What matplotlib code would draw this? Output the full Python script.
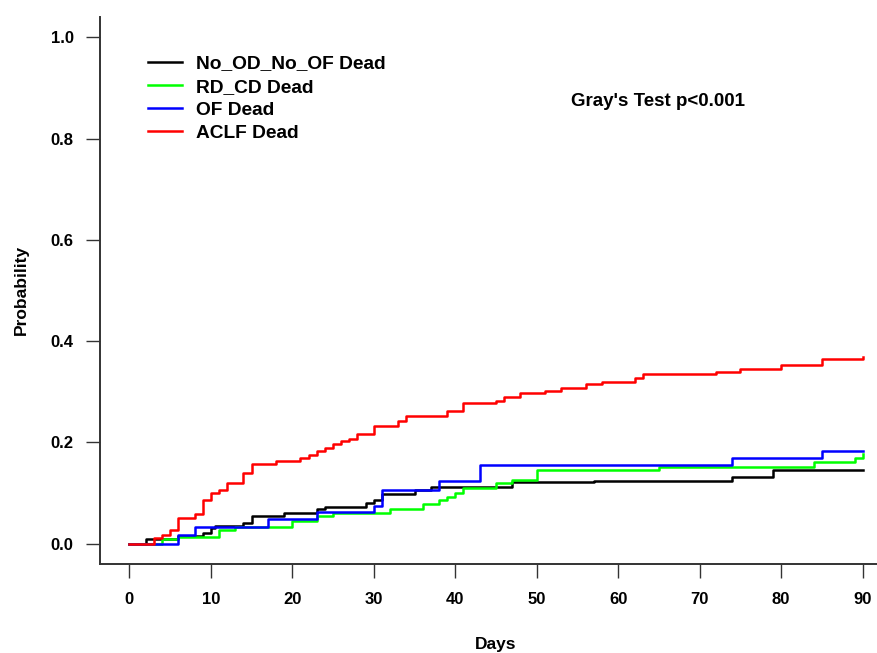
import matplotlib.pyplot as plt

plt.rcParams['font.family'] = ['Liberation Sans', 'DejaVu Sans']
plt.rcParams['font.weight'] = 'bold'

# cumulative incidence of death by group (days, probability)
days_none = [0, 2, 6, 9, 10, 10.5, 14, 15, 19, 23, 24, 29, 30, 31, 35, 37, 47, 57, 74, 79, 90]
prob_none = [0, 0.010, 0.016, 0.022, 0.031, 0.036, 0.041, 0.055, 0.061, 0.069, 0.073,
             0.081, 0.087, 0.099, 0.106, 0.112, 0.121, 0.124, 0.132, 0.146, 0.146]

days_rdcd = [0, 4, 6, 11, 13, 20, 23, 25, 32, 36, 38, 39, 40, 41, 45, 47, 50, 65, 84, 89, 90]
prob_rdcd = [0, 0.010, 0.014, 0.028, 0.034, 0.045, 0.054, 0.060, 0.069, 0.079, 0.087,
             0.093, 0.101, 0.110, 0.120, 0.126, 0.146, 0.152, 0.162, 0.170, 0.177]

days_of = [0, 6, 8, 17, 23, 30, 31, 38, 43, 74, 85, 90]
prob_of = [0, 0.018, 0.033, 0.049, 0.063, 0.075, 0.107, 0.124, 0.156, 0.170, 0.184, 0.184]

days_aclf = [0, 3, 4, 5, 6, 8, 9, 10, 11, 12, 14, 15, 18, 21, 22, 23, 24, 25, 26, 27, 28,
             30, 33, 34, 39, 41, 45, 46, 48, 51, 53, 56, 58, 62, 63, 72, 75, 80, 85, 90]
prob_aclf = [0, 0.012, 0.018, 0.028, 0.051, 0.059, 0.087, 0.100, 0.106, 0.120, 0.140,
             0.158, 0.164, 0.170, 0.176, 0.184, 0.189, 0.197, 0.203, 0.207, 0.217,
             0.233, 0.243, 0.252, 0.262, 0.278, 0.282, 0.290, 0.298, 0.302, 0.308,
             0.316, 0.320, 0.327, 0.335, 0.340, 0.345, 0.353, 0.365, 0.369]

x_ticks = [0, 10, 20, 30, 40, 50, 60, 70, 80, 90]
y_ticks = [0.0, 0.2, 0.4, 0.6, 0.8, 1.0]

W, H = 877, 653
fig = plt.figure(figsize=(W / 100, H / 100), dpi=100)
ax = fig.add_axes([100 / W, (H - 564) / H, 792 / W, 547 / H])

ax.step(days_none, prob_none, where='post', color='black', lw=1.8, label='No_OD_No_OF Dead')
ax.step(days_rdcd, prob_rdcd, where='post', color='#00ff00', lw=1.8, label='RD_CD Dead')
ax.step(days_of, prob_of, where='post', color='#0000ff', lw=1.8, label='OF Dead')
ax.step(days_aclf, prob_aclf, where='post', color='#ff0000', lw=1.8, label='ACLF Dead')

ax.set_xlim(-3.6, 93.6)
ax.set_ylim(-0.04, 1.04)
ax.set_xticks(x_ticks)
ax.set_yticks(y_ticks)
ax.set_yticklabels([f'{v:.1f}' for v in y_ticks])

for side in ['top', 'right']:
    ax.spines[side].set_visible(False)
for side in ['left', 'bottom']:
    ax.spines[side].set_color('#333333')
    ax.spines[side].set_linewidth(1.4)

ax.tick_params(axis='x', length=10, width=1, color='#333333', pad=10, labelsize=12)
ax.tick_params(axis='y', length=10, width=1, color='#333333', pad=9, labelsize=12)

# axis titles placed in figure pixels
ax.set_xlabel('Days', fontsize=12.5, fontweight='bold', va='center')
ax.xaxis.set_label_coords(496 / W, 1 - 645 / H, transform=fig.transFigure)
ax.set_ylabel('Probability', fontsize=12.5, fontweight='bold', va='center')
ax.yaxis.set_label_coords(21 / W, 1 - 290 / H, transform=fig.transFigure)

ax.legend(loc='upper left', bbox_to_anchor=(148 / W, 1 - 55 / H),
          bbox_transform=fig.transFigure, frameon=False, fontsize=13.8,
          handlelength=1.75, handletextpad=0.78, labelspacing=0.3,
          borderpad=0, borderaxespad=0)

fig.text(658 / W, 1 - 101 / H, "Gray's Test p<0.001", fontsize=13.5, fontweight='bold',
         ha='center', va='center')

plt.savefig('out.png', dpi=100)
